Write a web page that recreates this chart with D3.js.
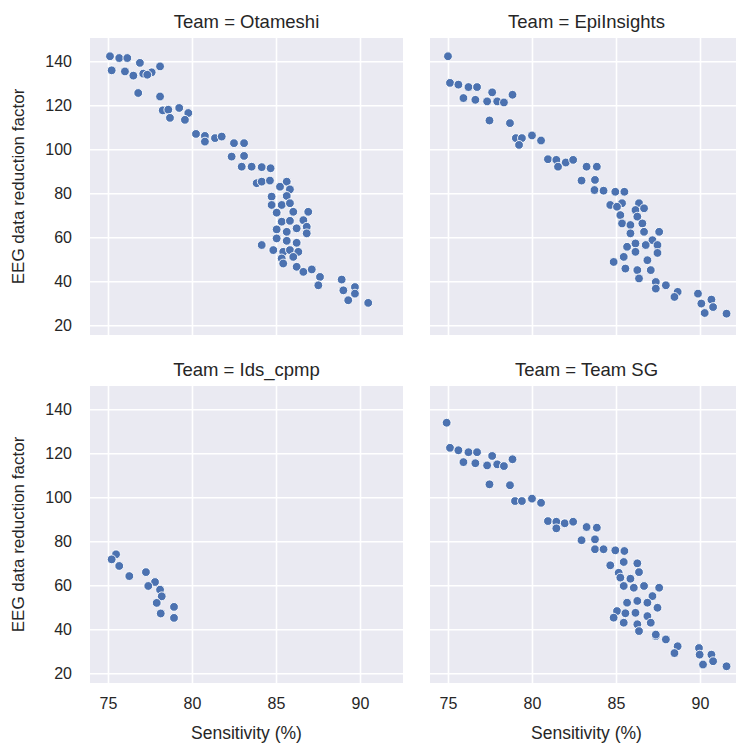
<!DOCTYPE html>
<html>
<head>
<meta charset="utf-8">
<script src="https://cdn.jsdelivr.net/npm/d3@7"></script>
<style>
  html, body { margin: 0; padding: 0; background: #ffffff; }
  svg { display: block; }
  text { font-family: "Liberation Sans", Arial, sans-serif; fill: #262626; }
</style>
</head>
<body>
<svg id="chart" width="736" height="749"></svg>
<script>
// ---- data ----
const teams = ["Otameshi", "EpiInsights", "Ids_cpmp", "Team SG"];
const xTicks = [75, 80, 85, 90];
const yTicks = [20, 40, 60, 80, 100, 120, 140];

const otameshiSens = [75.12,75.67,76.15,76.90,78.10,75.22,76.01,76.51,77.10,77.60,77.34,76.80,78.10,78.26,78.59,79.24,79.78,78.69,79.58,80.24,80.77,81.37,81.77,80.77,82.50,83.10,82.36,83.10,82.96,83.55,84.15,84.68,83.85,84.15,84.64,85.64,85.24,85.83,84.74,85.64,84.74,85.34,85.83,85.04,86.03,86.92,85.34,85.83,86.63,85.04,85.64,86.23,86.83,86.83,85.04,85.64,86.23,84.15,84.84,85.43,85.83,86.33,85.34,86.03,85.43,86.23,86.63,87.13,87.62,87.52,88.91,89.70,89.01,89.70,89.30,90.49];
const otameshiRed = [142.3,141.5,141.5,139.3,137.7,135.9,135.4,133.5,134.4,135.0,133.9,125.6,124.0,117.7,118.0,118.8,116.5,114.3,113.4,107.0,106.1,105.1,105.8,103.5,102.8,102.8,96.7,97.0,92.1,92.1,91.9,91.4,84.6,85.3,85.8,85.3,83.0,81.8,78.5,78.8,74.7,74.7,75.5,71.2,71.6,71.6,67.1,67.5,67.8,63.6,62.5,64.1,64.8,61.8,59.5,58.4,57.5,56.5,54.2,53.4,54.2,53.4,50.4,51.1,48.1,46.6,44.3,45.4,42.0,38.2,40.8,37.4,35.9,34.4,31.4,30.2];

const epiSens = [75.00,75.12,75.62,76.22,76.73,77.63,78.84,75.92,76.63,77.33,77.93,78.33,77.47,78.69,79.04,79.40,80.00,80.54,79.23,80.95,81.45,82.01,82.45,81.55,83.25,83.86,82.95,83.75,83.72,84.26,84.96,85.50,84.66,85.36,85.06,86.37,86.16,86.67,85.26,86.27,85.36,85.86,86.57,87.57,85.86,86.67,87.17,85.66,86.16,86.77,87.47,87.47,85.46,86.16,86.87,84.86,85.56,86.27,87.07,86.37,87.37,87.97,87.37,88.67,88.48,89.88,90.68,90.08,90.28,90.78,91.58];
const epiRed = [142.3,130.2,129.4,128.3,128.3,125.9,124.8,123.3,122.5,121.8,121.8,121.3,113.1,111.9,105.1,105.1,106.3,104.0,102.0,95.5,95.2,94.0,95.2,92.1,92.1,92.1,85.8,86.1,81.5,81.2,80.7,80.7,74.7,75.5,73.9,75.5,72.4,73.2,70.1,69.4,66.3,65.6,66.3,62.5,61.8,62.5,58.7,55.7,57.2,56.5,56.5,52.9,51.1,53.4,49.6,48.8,45.8,45.1,45.1,41.3,39.7,38.2,36.7,35.2,32.9,34.4,31.7,29.9,25.6,28.3,25.3];

const idsSens = [75.48,75.22,75.67,76.27,77.26,77.80,77.40,78.10,78.20,77.90,78.93,78.14,78.93];
const idsRed = [74.1,71.8,68.8,64.2,66.0,61.5,59.7,58.0,55.0,52.0,50.2,47.2,45.2];

const sgSens = [74.92,75.12,75.62,76.22,76.73,77.63,78.84,75.92,76.63,77.33,77.93,78.33,77.47,78.69,78.99,79.40,80.00,80.54,80.95,81.45,81.95,82.45,81.45,83.25,83.86,82.95,83.75,83.75,84.26,84.96,85.50,84.66,85.46,86.27,85.16,86.37,85.26,85.86,87.57,85.46,86.06,86.67,87.17,85.66,86.27,86.87,87.47,85.06,85.56,86.16,86.87,84.86,85.46,86.27,87.07,86.37,87.37,87.37,87.97,88.67,88.48,89.94,89.98,90.68,90.18,90.78,91.58];
const sgRed = [133.9,122.5,121.4,120.5,120.5,118.8,117.3,116.0,115.5,114.5,115.0,114.2,105.9,105.5,98.3,98.3,99.4,97.5,89.2,88.9,88.2,88.9,85.9,86.5,86.2,80.5,80.9,76.4,76.4,75.9,75.6,69.1,70.6,70.0,65.7,66.0,63.5,63.0,58.9,59.7,58.9,59.7,55.1,52.1,52.9,52.1,49.8,48.3,47.3,47.5,46.0,45.3,43.0,42.3,43.0,39.2,36.9,37.6,35.4,32.3,29.2,31.5,28.5,28.5,24.0,25.5,23.2];

const teamSens = [otameshiSens, epiSens, idsSens, sgSens];
const teamRed = [otameshiRed, epiRed, idsRed, sgRed];

// ---- layout ----
const colX = [90, 430];
const rowY = [38, 386];
const pw = 313, ph = 297;
const color = "#4C72B0";

const svg = d3.select("#chart");
svg.append("rect").attr("width", 736).attr("height", 749).attr("fill", "#ffffff");

const x = d3.scaleLinear().domain([73.93, 92.56]).range([0, pw]);
const y = d3.scaleLinear().domain([15.6, 150.6]).range([ph, 0]);

teams.forEach((team, i) => {
  const col = i % 2, row = Math.floor(i / 2);
  const g = svg.append("g").attr("transform", `translate(${colX[col]},${rowY[row]})`);

  g.append("rect").attr("width", pw).attr("height", ph).attr("fill", "#EAEAF2");

  const gx = g.append("g").attr("transform", `translate(0,${ph})`)
    .call(d3.axisBottom(x).tickValues(xTicks).tickSize(-ph).tickPadding(15).tickFormat(d3.format("d")));
  gx.select(".domain").remove();
  gx.selectAll("line").attr("stroke", "#ffffff").attr("stroke-width", 1.6);
  gx.selectAll("text").style("font-size", "16px").attr("fill", "#262626")
    .style("display", row === 1 ? null : "none");

  const gy = g.append("g")
    .call(d3.axisLeft(y).tickValues(yTicks).tickSize(-pw).tickPadding(18).tickFormat(d3.format("d")));
  gy.select(".domain").remove();
  gy.selectAll("line").attr("stroke", "#ffffff").attr("stroke-width", 1.6);
  gy.selectAll("text").style("font-size", "16px").attr("fill", "#262626")
    .style("display", col === 0 ? null : "none");

  const pts = teamSens[i].map((s, k) => ({ s, r: teamRed[i][k] }));
  g.append("g").selectAll("circle").data(pts).join("circle")
    .attr("cx", d => x(d.s)).attr("cy", d => y(d.r)).attr("r", 4.4)
    .attr("fill", color).attr("stroke", "#ffffff").attr("stroke-width", 0.9);

  g.append("text").attr("x", pw / 2).attr("y", -10).attr("text-anchor", "middle")
    .style("font-size", "18.5px").text(`Team = ${team}`);

  if (row === 1) {
    g.append("text").attr("x", pw / 2).attr("y", ph + 56).attr("text-anchor", "middle")
      .style("font-size", "17.5px").text("Sensitivity (%)");
  }
  if (col === 0) {
    g.append("text").attr("transform", `translate(${-66},${ph / 2}) rotate(-90)`)
      .attr("text-anchor", "middle").style("font-size", "17px").text("EEG data reduction factor");
  }
});
</script>
</body>
</html>
